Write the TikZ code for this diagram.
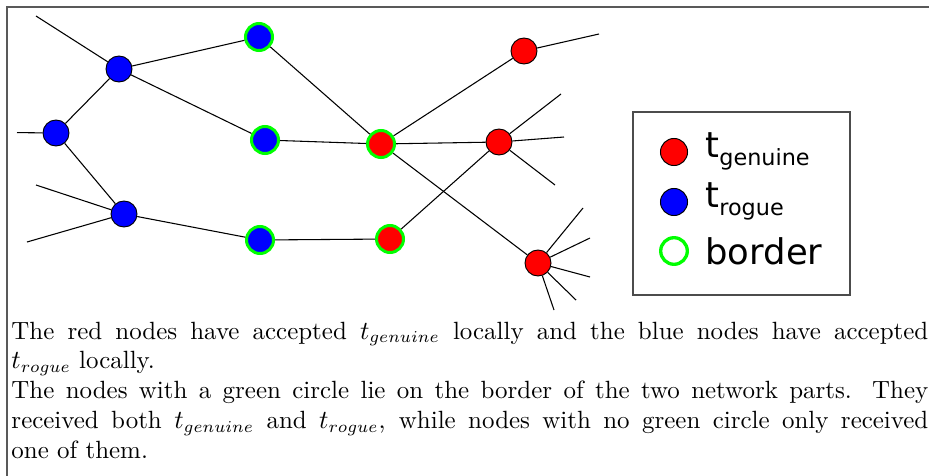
\documentclass[tikz,border=0pt]{standalone}
\usepackage{fontspec}
\newfontfamily\legfont{DejaVu Sans}
\tikzset{
  x=0.421pt, y=-0.421pt,
  edge/.style={draw=black, line width=0.45pt},
  rnode/.style={circle, draw=black, line width=0.4pt, fill=red, minimum size=10.95pt, inner sep=0pt},
  bnode/.style={circle, draw=black, line width=0.4pt, fill=blue, minimum size=10.95pt, inner sep=0pt},
  rgnode/.style={circle, draw=green, line width=1.26pt, fill=red, minimum size=11.37pt, inner sep=0pt},
  bgnode/.style={circle, draw=green, line width=1.26pt, fill=blue, minimum size=11.37pt, inner sep=0pt},
  legdot/.style={circle, draw=black, line width=0.4pt, minimum size=11.4pt, inner sep=0pt},
  legring/.style={circle, draw=green, line width=1.4pt, minimum size=11.2pt, inner sep=0pt},
  legtext/.style={anchor=base west, inner sep=0pt, font=\legfont\fontsize{14.9pt}{17pt}\selectfont},
}
\newcommand{\legsub}[1]{\raisebox{-3.7pt}{\fontsize{9.4pt}{11pt}\selectfont #1}}
\begin{document}
\begin{tikzpicture}
\useasboundingbox (0,0) rectangle (929,475);
\begin{scope}
\clip (0,0) rectangle (929,475);
\draw[black!65, line width=0.7pt] (7,7) rectangle (1000,1000);
\end{scope}

% nodes
\node[bnode] (b1) at (119,69) {};
\node[bnode] (b2) at (56,133) {};
\node[bnode] (b3) at (124,214) {};
\node[bgnode] (g1) at (259,37) {};
\node[bgnode] (g2) at (265,140) {};
\node[bgnode] (g3) at (260,240) {};
\node[rgnode] (h1) at (381,144) {};
\node[rgnode] (h2) at (390,239) {};
\node[rnode] (r1) at (524,51) {};
\node[rnode] (r2) at (499,142) {};
\node[rnode] (r3) at (538,263) {};

% free ends
\coordinate (f1) at (36,16);
\coordinate (f2) at (17,132.6);
\coordinate (f3) at (36,185);
\coordinate (f4) at (27,242);
\coordinate (f5) at (599,34);
\coordinate (f6) at (561,94);
\coordinate (f7) at (564,137);
\coordinate (f8) at (555,185);
\coordinate (f9) at (583,208);
\coordinate (f10) at (590,238);
\coordinate (f11) at (590,277);
\coordinate (f12) at (576,300);
\coordinate (f13) at (554,310);

% edges
\draw[edge] (f1) -- (b1);
\draw[edge] (b1) -- (g1);
\draw[edge] (b1) -- (g2);
\draw[edge] (b1) -- (b2);
\draw[edge] (f2) -- (b2);
\draw[edge] (b2) -- (b3);
\draw[edge] (f3) -- (b3);
\draw[edge] (f4) -- (b3);
\draw[edge] (b3) -- (g3);
\draw[edge] (g1) -- (h1);
\draw[edge] (g2) -- (h1);
\draw[edge] (g3) -- (h2);
\draw[edge] (h1) -- (r1);
\draw[edge] (h1) -- (r2);
\draw[edge] (h1) -- (r3);
\draw[edge] (h2) -- (r2);
\draw[edge] (r1) -- (f5);
\draw[edge] (r2) -- (f6);
\draw[edge] (r2) -- (f7);
\draw[edge] (r2) -- (f8);
\draw[edge] (r3) -- (f9);
\draw[edge] (r3) -- (f10);
\draw[edge] (r3) -- (f11);
\draw[edge] (r3) -- (f12);
\draw[edge] (r3) -- (f13);

% legend
\node[draw=black!70, line width=0.55pt, minimum width=217*0.421pt, minimum height=183*0.421pt, inner sep=0pt] (leg) at (741.5,203.5) {};
\node[legdot, fill=red] (lr) at (674,152) {};
\node[legdot, fill=blue] (lb) at (674,202) {};
\node[legring] (lg) at (674,251) {};
\node[legtext] (tr) at (705,157) {t\legsub{genuine}};
\node[legtext] (tb) at (705,207) {t\legsub{rogue}};
\node[legtext] (tg) at (705,264) {border};

% caption
\node[anchor=base west, inner sep=0pt, text width=386pt, align=justify,
      font=\fontsize{10.5pt}{12.6pt}\selectfont] (cap) at (11,339)
{\parskip=0pt\hbadness=10000 The red nodes have accepted $t_{genuine}$ locally and the blue nodes have accepted\linebreak $t_{rogue}$ locally.\par
The nodes with a green circle lie on the border of the two network parts. They\linebreak received both $t_{genuine}$ and $t_{rogue}$, while nodes with no green circle only received\linebreak one of them.};
\end{tikzpicture}
\end{document}
